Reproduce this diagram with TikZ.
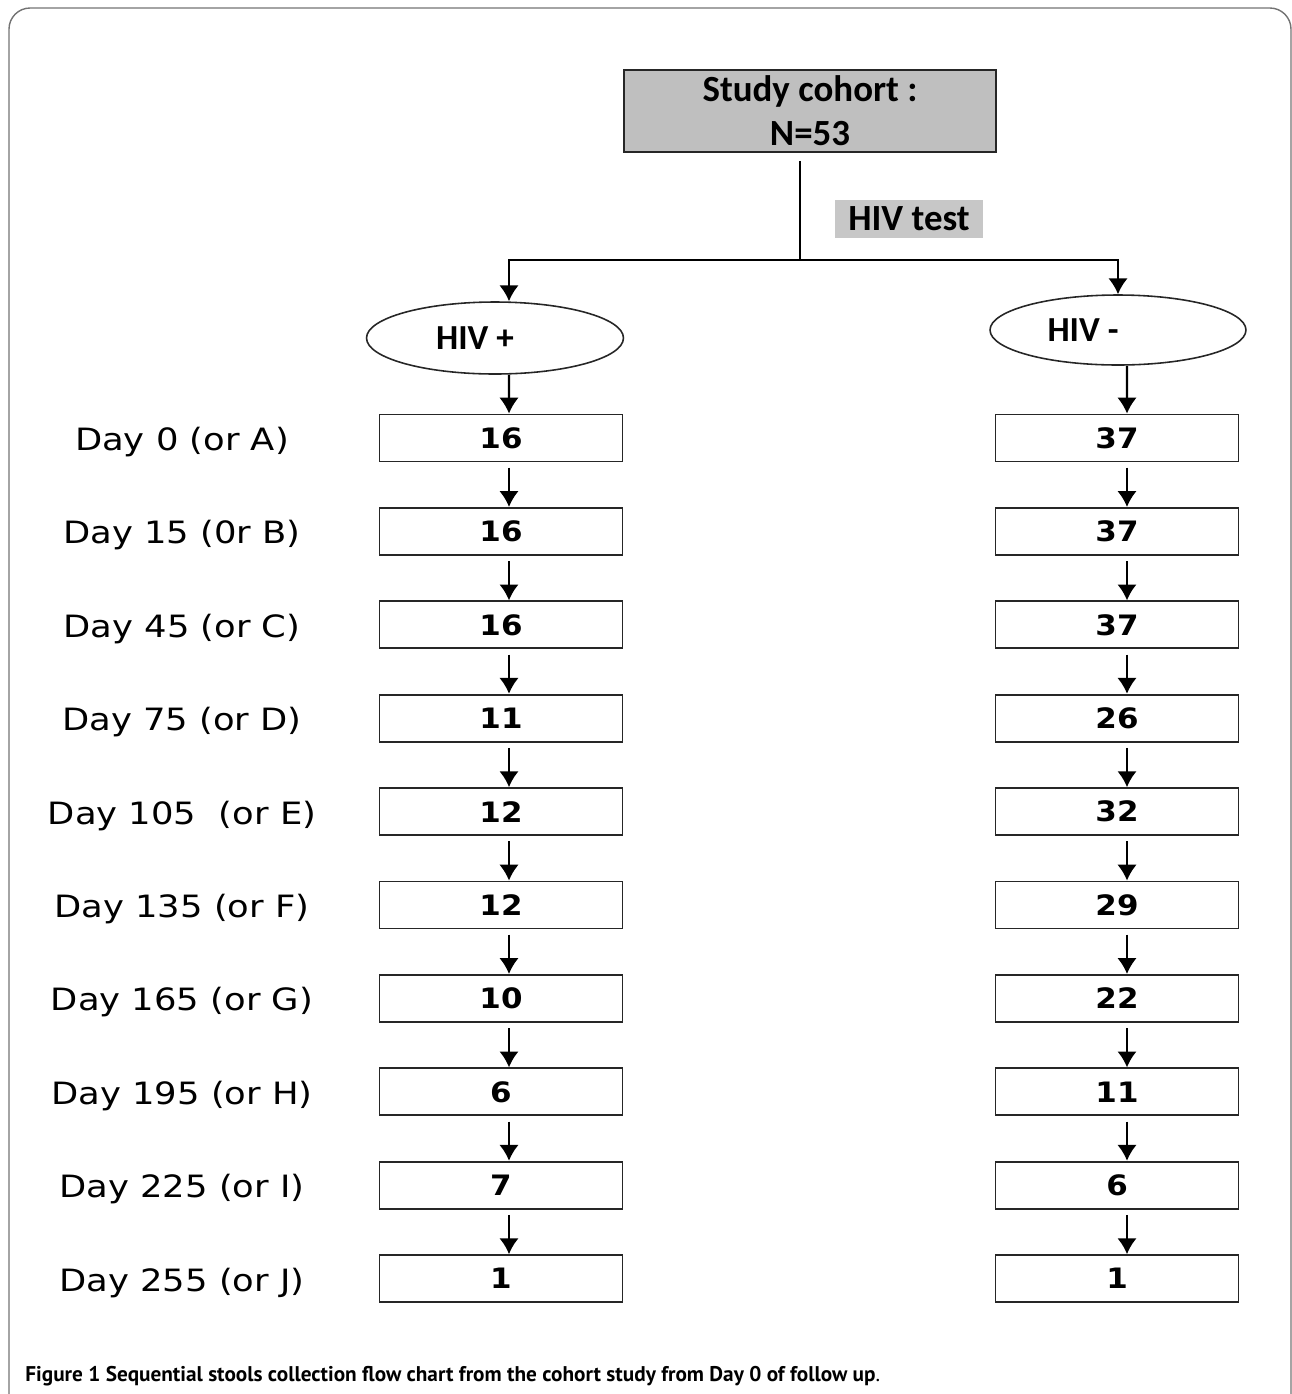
\documentclass[tikz,border=0pt]{standalone}
\usepackage{fontspec}
\setmainfont{DejaVu Sans}
\newfontfamily\calibrifont{Carlito}
\newfontfamily\captionfont{PT Sans}
\usetikzlibrary{shapes.geometric}
\usetikzlibrary{arrows.meta}
\usetikzlibrary{positioning}

\tikzset{
  countbox/.style={draw=black!85,line width=1.1pt,minimum width=4.86cm,minimum height=0.94cm,inner sep=0pt,font=\fontsize{16}{19}\selectfont\bfseries},
  hivnode/.style={ellipse,draw=black!85,line width=0.9pt,inner sep=0pt,font=\calibrifont\fontsize{20}{24}\selectfont\bfseries},
  daylabel/.style={font=\fontsize{17.5}{21}\selectfont},
  flow/.style={line width=1.2pt,-{Latex[length=9pt,width=11pt]}},
}

\begin{document}
\begin{tikzpicture}[x=0.02cm,y=-0.02cm]
\useasboundingbox (0,0) rectangle (1292,1394);
\begin{scope}
\clip (0,0) rectangle (1292,1394);
\draw[black!55,line width=0.8pt,rounded corners=12] (9,8) rectangle (1291,1430);
\end{scope}

\node[draw=black!85,line width=1.1pt,fill=black!25,minimum width=7.44cm,minimum height=1.64cm,align=center,font=\calibrifont\fontsize{21}{25}\selectfont\bfseries] (cohort) at (810,111) {Study cohort :\\N=53};
\node[fill=black!22,minimum width=2.96cm,minimum height=0.76cm,inner sep=0pt,font=\calibrifont\fontsize{21}{25}\selectfont\bfseries] (test) at (909,219) {HIV test};
\node[hivnode,minimum width=5.14cm,minimum height=1.44cm] (pos) at (495,338) {\hspace{-0.8cm}\raisebox{-3pt}{HIV +}};
\node[hivnode,minimum width=5.12cm,minimum height=1.40cm] (neg) at (1118,330) {\hspace{-1.4cm}\raisebox{-2pt}{HIV -}};

\coordinate (split) at (800,260);
\draw[line width=1pt] ([yshift=-0.16cm]cohort.south -| split) -- (split);
\draw[flow] (split) -| ([xshift=0.28cm]pos.north);
\draw[flow] (split) -| (neg.north);

\foreach \i/\day/\p/\n in {0/{Day 0 (or A)}/16/37,1/{Day 15 (0r B)}/16/37,2/{Day 45 (or C)}/16/37,3/{Day 75 (or D)}/11/26,4/{Day 105\ \ (or E)}/12/32,5/{Day 135 (or F)}/12/29,6/{Day 165 (or G)}/10/22,7/{Day 195 (or H)}/6/11,8/{Day 225 (or I)}/7/6,9/{Day 255 (or J)}/1/1} {
  \node[daylabel] (day\i) at (182,442+93.4*\i) {\scalebox{1.15}[1]{\day}};
  \node[countbox] (p\i) at (501,438+93.4*\i) {\scalebox{1.1}[1]{\p}};
  \node[countbox] (n\i) at (1117,438+93.4*\i) {\scalebox{1.1}[1]{\n}};
}

\draw[flow] ([xshift=0.28cm]pos.south) -- ([xshift=0.16cm]p0.north);
\draw[flow] ([xshift=0.18cm]neg.south) -- ([xshift=0.2cm]n0.north);
\foreach \i [evaluate=\i as \j using int(\i+1)] in {0,...,8} {
  \draw[flow,shorten <=3pt] ([xshift=0.16cm]p\i.south) -- ([xshift=0.16cm]p\j.north);
  \draw[flow,shorten <=3pt] ([xshift=0.2cm]n\i.south) -- ([xshift=0.2cm]n\j.north);
}

\node[anchor=base west,inner sep=0pt,font=\captionfont\fontsize{12.1}{15}\selectfont] (caption) at (25,1381) {\textbf{Figure 1 Sequential stools collection flow chart from the cohort study from Day 0 of follow up}.};
\end{tikzpicture}
\end{document}
